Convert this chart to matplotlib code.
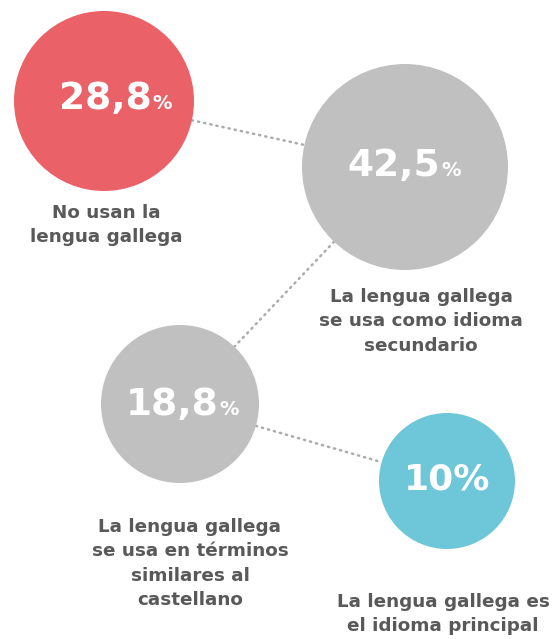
import numpy as np
import matplotlib.pyplot as plt
from matplotlib.patches import Circle

# data
values = ['28,8', '42,5', '18,8', '10']
labels = ['No usan la\nlengua gallega',
          'La lengua gallega\nse usa como idioma\nsecundario',
          'La lengua gallega\nse usa en términos\nsimilares al\ncastellano',
          'La lengua gallega es\nel idioma principal']

# layout (pixels)
centers = [(104, 101), (405, 167), (180, 404), (447, 481)]
radii = [90, 103, 79, 68]
colors = ['#EB6168', '#C0C0C0', '#C0C0C0', '#6EC6D9']
num_pos = [(116, 99), (405, 166), (183, 405), (447, 480)]
lab_pos = [(106, 204), (421, 288), (190, 518), (443, 593)]

fig = plt.figure(figsize=(5.6, 6.39), dpi=100)
ax = fig.add_axes([0, 0, 1, 1])
ax.set_xlim(0, 560)
ax.set_ylim(639, 0)
ax.set_aspect('equal')
ax.axis('off')

# dotted connectors between circle edges
for i in range(len(centers) - 1):
    p0 = np.array(centers[i], float)
    p1 = np.array(centers[i + 1], float)
    d = (p1 - p0) / np.linalg.norm(p1 - p0)
    a = p0 + d * radii[i]
    b = p1 - d * radii[i + 1]
    ax.plot([a[0], b[0]], [a[1], b[1]], color='#ABABAB', lw=1.8,
            linestyle=(0, (0.5, 2.0)), dash_capstyle='round', zorder=1)

for i, v in enumerate(values):
    ax.add_patch(Circle(centers[i], radii[i], color=colors[i], zorder=2, lw=0))
    x, y = num_pos[i]
    if ',' not in v:
        ax.text(x, y, v + '%', color='white', fontsize=26, fontweight='bold',
                ha='center', va='center', zorder=3)
    else:
        ax.text(x, y, v, color='white', fontsize=27, fontweight='bold',
                ha='center', va='center', zorder=3)
    ax.text(lab_pos[i][0], lab_pos[i][1], labels[i], color='#595959',
            fontsize=13.2, fontweight='bold', ha='center', va='top',
            linespacing=1.45, zorder=3)

fig.canvas.draw()
# small % sign appended to the decimal values
inv = ax.transData.inverted()
for t in list(ax.texts):
    if ',' in t.get_text():
        bb = t.get_window_extent()
        x0, y0 = inv.transform((bb.x0, bb.y0))
        x1, y1 = inv.transform((bb.x1, bb.y1))
        t.set_x(t.get_position()[0] - 11)
        ax.text(x1 - 10, y0 - 4, '%', color='white', fontsize=14,
                fontweight='bold', ha='left', va='bottom', zorder=3)

fig.savefig('out.png', dpi=100)
